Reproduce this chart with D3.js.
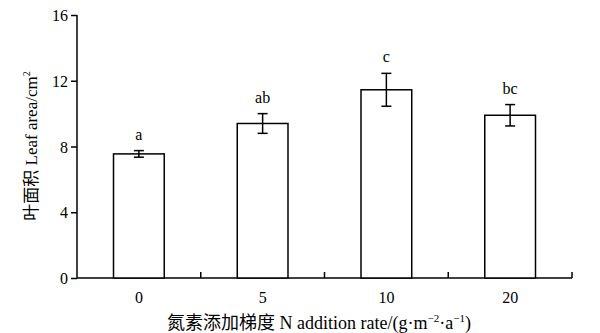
<!DOCTYPE html>
<html>
<head>
<meta charset="utf-8">
<script src="https://cdn.jsdelivr.net/npm/d3@7"></script>
<style>
  body { margin: 0; background: #fff; }
  svg text { font-family: "Liberation Serif", "Times New Roman", "Noto Sans CJK SC", serif; fill: #000; }
</style>
</head>
<body>
<svg id="chart" width="600" height="333"></svg>
<script>
// N addition rate groups and measured leaf area
var categories = ["0", "5", "10", "20"];
var means = [7.55, 9.4, 11.45, 9.9];
var errors = [0.2, 0.6, 1.0, 0.65];
var letters = ["a", "ab", "c", "bc"];
var yTicks = [0, 4, 8, 12, 16];

var margin = {top: 15, right: 28, bottom: 55, left: 77};
var width = 600, height = 333;

var svg = d3.select("#chart");
var g = svg.append("g").attr("transform", "translate(" + margin.left + "," + margin.top + ")");

var w = width - margin.left - margin.right;
var h = height - margin.top - margin.bottom;

var x = d3.scaleBand().domain(categories).range([0, w]).paddingInner(0.59).paddingOuter(0.295);
var xEdge = d3.scaleLinear().domain([0, categories.length]).range([0, w]);
var y = d3.scaleLinear().domain([0, 16]).range([h, 0]);

// y axis
var yAxis = g.append("g")
  .call(d3.axisLeft(y).tickValues(yTicks).tickSize(6).tickPadding(3));
yAxis.select(".domain").attr("d", "M0," + h + "V0").attr("stroke-width", 1.5);
yAxis.selectAll(".tick line").attr("stroke-width", 1.5);
yAxis.selectAll(".tick text").style("font-size", "16px").attr("dy", "0.35em");

// x axis: ticks at group boundaries pointing up
var xAxis = g.append("g").attr("transform", "translate(0," + h + ")");
xAxis.append("line").attr("x1", 0).attr("x2", w).attr("stroke", "#000").attr("stroke-width", 1.5);
xAxis.selectAll(".edge")
  .data(d3.range(1, categories.length + 1))
  .enter().append("line")
    .attr("x1", function(d) { return xEdge(d); })
    .attr("x2", function(d) { return xEdge(d); })
    .attr("y1", 0).attr("y2", -6)
    .attr("stroke", "#000").attr("stroke-width", 1.5);
xAxis.selectAll(".lab")
  .data(categories)
  .enter().append("text")
    .attr("x", function(d) { return x(d) + x.bandwidth() / 2; })
    .attr("y", 25)
    .attr("text-anchor", "middle")
    .style("font-size", "16px")
    .text(function(d) { return d; });

// bars
g.selectAll(".bar")
  .data(means)
  .enter().append("rect")
    .attr("x", function(d, i) { return x(categories[i]); })
    .attr("y", function(d) { return y(d); })
    .attr("width", x.bandwidth())
    .attr("height", function(d) { return h - y(d); })
    .attr("fill", "#fff")
    .attr("stroke", "#000")
    .attr("stroke-width", 1.5);

// error bars
var eb = g.selectAll(".err")
  .data(means)
  .enter().append("g");
eb.append("line")
  .attr("x1", function(d, i) { return x(categories[i]) + x.bandwidth() / 2; })
  .attr("x2", function(d, i) { return x(categories[i]) + x.bandwidth() / 2; })
  .attr("y1", function(d, i) { return y(d + errors[i]); })
  .attr("y2", function(d, i) { return y(d - errors[i]); })
  .attr("stroke", "#000").attr("stroke-width", 1.5);
[1, -1].forEach(function(s) {
  eb.append("line")
    .attr("x1", function(d, i) { return x(categories[i]) + x.bandwidth() / 2 - 5; })
    .attr("x2", function(d, i) { return x(categories[i]) + x.bandwidth() / 2 + 5; })
    .attr("y1", function(d, i) { return y(d + s * errors[i]); })
    .attr("y2", function(d, i) { return y(d + s * errors[i]); })
    .attr("stroke", "#000").attr("stroke-width", 1.5);
});

// significance letters
g.selectAll(".sig")
  .data(means)
  .enter().append("text")
    .attr("x", function(d, i) { return x(categories[i]) + x.bandwidth() / 2; })
    .attr("y", function(d, i) { return y(d + errors[i]) - 11; })
    .attr("text-anchor", "middle")
    .style("font-size", "16px")
    .text(function(d, i) { return letters[i]; });

// axis titles
svg.append("text")
  .attr("transform", "translate(37,146) rotate(-90)")
  .attr("text-anchor", "middle")
  .style("font-size", "17px")
  .html('叶面积 Leaf area/cm<tspan dy="-7" font-size="10px">2</tspan>');

svg.append("text")
  .attr("x", 319)
  .attr("y", 329)
  .attr("text-anchor", "middle")
  .style("font-size", "18px")
  .html('氮素添加梯度 N addition rate/(g·m<tspan dy="-7" font-size="11px">−2</tspan><tspan dy="7">·a</tspan><tspan dy="-7" font-size="11px">−1</tspan><tspan dy="7">)</tspan>');
</script>
</body>
</html>
